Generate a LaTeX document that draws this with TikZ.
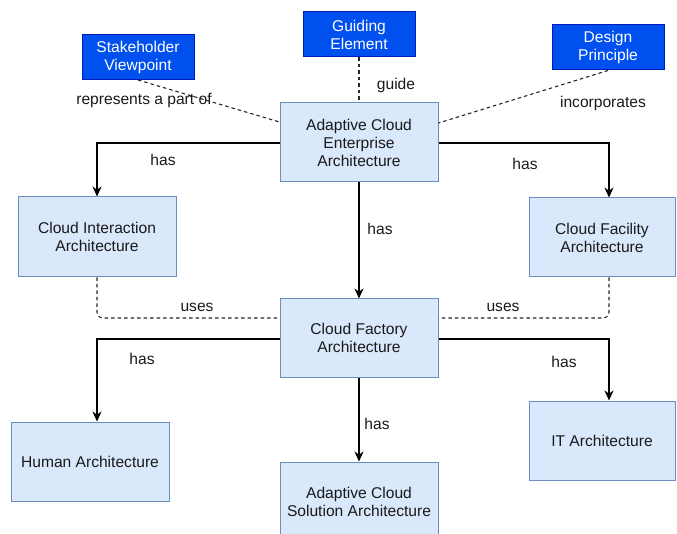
\documentclass[tikz,border=0pt]{standalone}
\usepackage{fontspec}
\setmainfont{Liberation Sans}
\usetikzlibrary{arrows.meta}
\definecolor{lightfill}{HTML}{DAE8FC}
\definecolor{lightline}{HTML}{6C8EBF}
\definecolor{darkfill}{HTML}{0050EF}
\definecolor{darkline}{HTML}{001DBC}
\definecolor{ink}{HTML}{1A1A1A}
\tikzset{
  part/.style={draw=lightline, fill=lightfill, line width=1pt, align=center,
    text=ink, inner sep=0pt, font=\fontsize{15.6}{18}\selectfont},
  concept/.style={draw=darkline, fill=darkfill, line width=1pt, align=center,
    text=white, inner sep=0pt, minimum width=112pt, minimum height=45pt,
    font=\fontsize{15.6}{18}\selectfont},
  rel/.style={text=ink, inner sep=0pt, font=\fontsize{15.6}{18}\selectfont},
  hasarrow/.style={draw=black, line width=1.2pt, -{Stealth[length=10pt,width=9pt]}},
  linkline/.style={draw=black!85, line width=1.1pt, dash pattern=on 3.5pt off 3pt},
}
\begin{document}
\begin{tikzpicture}[x=1pt, y=-1pt]
  \useasboundingbox (0,0) rectangle (677,534);

  % concept boxes
  \node[concept] (stake)  at (138,57)   {Stakeholder\\Viewpoint};
  \node[concept] (guide)  at (359,34.5) {Guiding\\Element};
  \node[concept] (design) at (608,47.5) {Design\\Principle};

  % architecture boxes
  \node[part, minimum width=158pt, minimum height=79pt] (acea) at (359,142.5)
    {Adaptive Cloud\\Enterprise\\Architecture};
  \node[part, minimum width=158pt, minimum height=80pt] (cia) at (97,237)
    {Cloud Interaction\\Architecture};
  \node[part, minimum width=146pt, minimum height=79pt] (facility) at (602,237.5)
    {Cloud Facility\\Architecture};
  \node[part, minimum width=158pt, minimum height=78pt] (factory) at (359,338)
    {Cloud Factory\\Architecture};
  \node[part, minimum width=158pt, minimum height=79pt] (human) at (90,461.5)
    {Human Architecture};
  \node[part, minimum width=158pt, minimum height=79pt] (acsa) at (359,501.5)
    {Adaptive Cloud\\Solution Architecture};
  \node[part, minimum width=146pt, minimum height=79pt] (it) at (602,440.5)
    {IT Architecture};

  % composition arrows
  \draw[hasarrow] (acea.west |- 0,143) -| (cia.north);
  \draw[hasarrow] (acea.east |- 0,143) -| ([xshift=7pt]facility.north);
  \draw[hasarrow] (acea.south) -- (factory.north);
  \draw[hasarrow] (factory.west |- 0,339) -| ([xshift=7pt]human.north);
  \draw[hasarrow] (factory.east |- 0,339) -| ([xshift=7pt]it.north);
  \draw[hasarrow] (factory.south) -- (acsa.north);

  % dashed relations
  \draw[linkline] (stake.south) -- (acea.west |- 0,122);
  \draw[linkline] (guide.south) -- (acea.north);
  \draw[linkline] (design.south) -- (acea.east |- 0,123);
  \draw[linkline, rounded corners=6pt] (cia.south) |- (factory.west |- 0,318);
  \draw[linkline, rounded corners=6pt] ([xshift=7pt]facility.south) |- (factory.east |- 0,318);

  % relation labels
  \node[rel] (l1) at (144,100)  {represents a part of};
  \node[rel] (l2) at (396,85)  {guide};
  \node[rel] (l3) at (603,103) {incorporates};
  \node[rel] (h1) at (163,160) {has};
  \node[rel] (h2) at (525,164) {has};
  \node[rel] (h3) at (380,229) {has};
  \node[rel] (h4) at (142,359) {has};
  \node[rel] (h5) at (564,362) {has};
  \node[rel] (h6) at (377,424) {has};
  \node[rel] (u1) at (197,307) {uses};
  \node[rel] (u2) at (503,307) {uses};
\end{tikzpicture}
\end{document}
